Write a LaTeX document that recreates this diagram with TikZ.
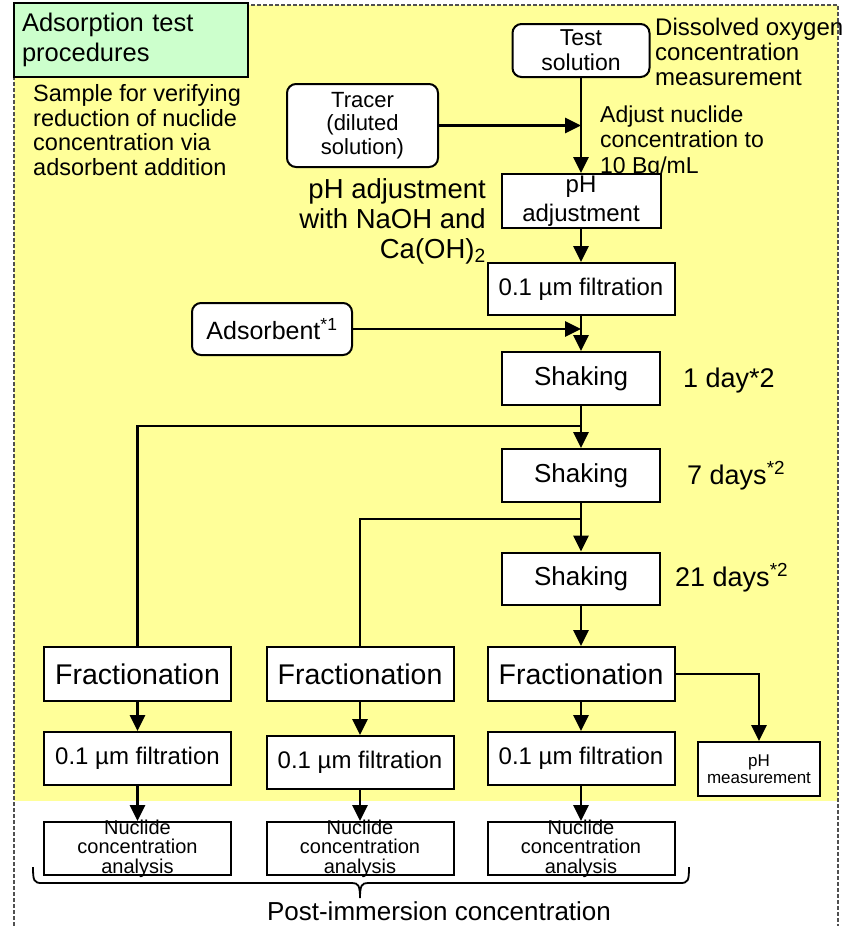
\documentclass[tikz,border=0pt]{standalone}
\usepackage{fontspec}
\setmainfont{Liberation Sans}
\usetikzlibrary{arrows.meta}

\definecolor{bgyellow}{RGB}{255,255,153}
\definecolor{titlegreen}{RGB}{204,255,204}
\definecolor{borderdash}{RGB}{80,80,80}

\tikzset{
  fs/.style 2 args={font=\fontsize{#1}{#2}\selectfont},
  box/.style={draw, line width=2pt, fill=white, inner sep=0pt, align=center},
  rbox/.style={box, rounded corners=9pt},
  note/.style={inner sep=0pt},
  flow/.style={line width=2.8pt, -{Triangle[length=16pt,width=15pt]}},
  link/.style={line width=2.8pt},
  frame/.style={draw=borderdash, line width=2pt, dash pattern=on 4pt off 2pt},
}

\begin{document}
\begin{tikzpicture}[x=1pt,y=-1pt]
\useasboundingbox (0,0) rectangle (845,926);

% background panel and its dashed frame
\fill[bgyellow] (14,5) rectangle (838,801);
\draw[frame] (14,926) -- (14,5) -- (838,5) -- (838,926);

% title
\node[box, fill=titlegreen, line width=1.5pt, minimum width=234pt, minimum height=74pt,
      text width=218pt, align=left, fs={25.5}{30}] (title) at (131,40)
  {Adsorption test\\procedures};

% multi-line notes are anchored at the baseline of their last line
\node[note, anchor=base west, align=left, fs={23.5}{24.5}] (sample) at (33,175)
  {Sample for verifying\\reduction of nuclide\\concentration via\\adsorbent addition};

% main column
\node[rbox, minimum width=137pt, minimum height=53pt, fs={23}{25}] (ts) at (581,50.5)
  {Test\\solution};
\node[note, anchor=base west, align=left, fs={24}{25}] (do) at (655,85)
  {Dissolved oxygen\\concentration\\measurement};
\node[rbox, minimum width=151pt, minimum height=83pt, fs={22}{23.5}] (tr) at (362.5,125.5)
  {Tracer\\(diluted\\solution)};
\node[note, anchor=base west, align=left, fs={23}{25.5}] (adj) at (600,173)
  {Adjust nuclide\\concentration to\\10 Bq/mL};
\node[box, minimum width=159pt, minimum height=54pt, fs={24}{29}] (ph) at (581,201)
  {pH\\adjustment};
\node[note, anchor=base east, align=right, fs={27.5}{30}] (naoh) at (486,258)
  {pH adjustment\\with NaOH and\\Ca(OH)\textsubscript{2}};
\node[box, minimum width=187pt, minimum height=52pt, fs={24}{28}] (filt) at (581,289)
  {0.1 µm filtration};
\node[rbox, minimum width=160pt, minimum height=52pt, fs={25}{28}] (ad) at (272,329)
  {Adsorbent\textsuperscript{*1}};
\node[box, minimum width=158pt, minimum height=53pt, fs={26}{28}] (sh1) at (581,378.5) {Shaking};
\node[box, minimum width=158pt, minimum height=53pt, fs={26}{28}] (sh2) at (581,475.5) {Shaking};
\node[box, minimum width=158pt, minimum height=52pt, fs={26}{28}] (sh3) at (581,578.5) {Shaking};
\node[note, anchor=base west, fs={27}{28}] (d1) at (683,387) {1 day*2};
\node[note, anchor=base west, fs={27}{28}] (d7) at (687,484) {7 days\textsuperscript{*2}};
\node[note, anchor=base west, fs={27}{28}] (d21) at (675,586) {21 days\textsuperscript{*2}};

% three sampling columns
\foreach \i/\cx/\fy in {1/137.5/758.5, 2/360/762.5, 3/581/758.5}{
  \node[box, minimum width=187pt, minimum height=54pt, fs={28.5}{30}] (fr\i) at (\cx,674) {Fractionation};
  \node[box, minimum width=187pt, minimum height=53pt, fs={24}{28}] (fi\i) at (\cx,\fy) {0.1 µm filtration};
  \node[box, minimum width=187pt, minimum height=53pt, inner ysep=-2.5pt, fs={20}{19.5}] (nu\i) at (\cx,848.5)
    {Nuclide\\concentration\\analysis};
}
\node[box, minimum width=122pt, minimum height=54pt, fs={17}{17}] (phm) at (759,769)
  {pH\\measurement};

% connectors
\draw[flow] (ts.south) -- (ph.north);
\draw[flow] (tr.east) -- (tr.east -| ph.north);
\draw[flow] (ph.south) -- (filt.north);
\draw[flow] (filt.south) -- (sh1.north);
\draw[flow] (ad.east) -- (ad.east -| filt.south);
\draw[flow] (sh1.south) -- (sh2.north);
\draw[flow] (sh2.south) -- (sh3.north);
\draw[flow] (sh3.south) -- (fr3.north);
\coordinate (b1) at (581,426);
\coordinate (b2) at (581,519);
\draw[link] (b1) -| (fr1.north);
\draw[link] (b2) -| (fr2.north);
\foreach \i in {1,2,3}{
  \draw[flow] (fr\i.south) -- (fi\i.north);
  \draw[flow] (fi\i.south) -- (nu\i.north);
}
\draw[flow] (fr3.east) -| (phm.north);

% brace over the analyses
\draw[line width=1.8pt]
  (33,867) .. controls (33,881) and (34,883) .. (42,883) -- (352,883)
  .. controls (358,883) and (360,885) .. (360,898)
  .. controls (360,885) and (362,883) .. (368,883) -- (680,883)
  .. controls (688,883) and (689,881) .. (689,867);
\node[note, anchor=base, fs={26}{28}] (post) at (439,920) {Post-immersion concentration};
\end{tikzpicture}
\end{document}
